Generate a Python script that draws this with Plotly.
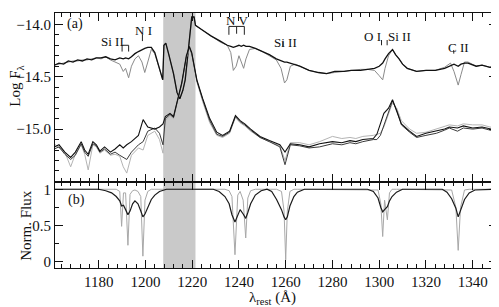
import plotly.graph_objects as go

# ---------------- data ----------------
# Panel (a): upper spectrum (black = observed, grey = with absorption)
up_wl = [1161, 1163, 1165, 1167, 1169, 1171, 1173, 1175, 1177, 1179, 1181, 1183, 1185, 1187,
         1189, 1190.5, 1191.5, 1192.8, 1194, 1195.5, 1197, 1198.5, 1199.7, 1201, 1202.5, 1204,
         1205.5, 1206.5, 1207.4, 1207.9, 1208.7, 1210, 1212, 1213.5, 1214.7, 1216, 1217, 1218,
         1219, 1219.8, 1220.8, 1221.4, 1224, 1228, 1232, 1235, 1236.5, 1237.6, 1238.8, 1240,
         1241, 1242, 1243, 1244.5, 1247, 1250, 1253, 1256, 1258, 1259.5, 1260.5, 1262, 1264,
         1266, 1270, 1274, 1277.5, 1281, 1285, 1288, 1292, 1295, 1298, 1300, 1301.5, 1302.5,
         1304, 1305.7, 1307, 1308.5, 1310, 1312, 1316, 1320, 1324, 1328, 1330.5, 1332, 1333.8,
         1335, 1336.5, 1338, 1341.5, 1344, 1347.4, 1350]
up_black = [-14.39, -14.37, -14.38, -14.35, -14.36, -14.34, -14.35, -14.33, -14.34, -14.32, -14.32,
            -14.31, -14.33, -14.34, -14.32, -14.33, -14.32, -14.33, -14.31, -14.28, -14.26, -14.24,
            -14.23, -14.22, -14.22, -14.27, -14.38, -14.47, -14.53, -14.20, -14.18, -14.29, -14.47,
            -14.65, -14.71, -14.63, -14.53, -14.32, -14.10, -13.93, -13.93, -14.01, -14.05, -14.11,
            -14.16, -14.20, -14.21, -14.22, -14.21, -14.20, -14.21, -14.20, -14.21, -14.21, -14.23,
            -14.26, -14.29, -14.33, -14.35, -14.36, -14.36, -14.37, -14.38, -14.40, -14.44, -14.46,
            -14.47, -14.45, -14.45, -14.44, -14.44, -14.43, -14.42, -14.40, -14.37, -14.33, -14.28,
            -14.24, -14.29, -14.33, -14.38, -14.42, -14.45, -14.44, -14.44, -14.42, -14.39, -14.38,
            -14.40, -14.38, -14.37, -14.37, -14.40, -14.39, -14.41, -14.41]
up_grey = [-14.39, -14.38, -14.37, -14.36, -14.35, -14.35, -14.34, -14.34, -14.33, -14.32, -14.33,
           -14.31, -14.34, -14.36, -14.38, -14.45, -14.42, -14.51, -14.40, -14.33, -14.30, -14.36,
           -14.46, -14.36, -14.24, -14.28, -14.39, -14.48, -14.53, -14.20, -14.18, -14.29, -14.47,
           -14.65, -14.71, -14.63, -14.53, -14.32, -14.10, -13.93, -13.93, -14.01, -14.05, -14.11,
           -14.17, -14.20, -14.27, -14.44, -14.40, -14.30, -14.36, -14.42, -14.33, -14.24, -14.23,
           -14.26, -14.30, -14.34, -14.42, -14.56, -14.53, -14.40, -14.38, -14.40, -14.44, -14.46,
           -14.47, -14.46, -14.45, -14.44, -14.43, -14.43, -14.44, -14.49, -14.53, -14.42, -14.30,
           -14.24, -14.29, -14.33, -14.38, -14.42, -14.45, -14.44, -14.44, -14.41, -14.37, -14.45,
           -14.58, -14.48, -14.36, -14.36, -14.40, -14.39, -14.41, -14.41]

# Panel (a): lower spectrum (three epochs)
lo_wl = [1161, 1163, 1165.5, 1168, 1170, 1171.5, 1172.5, 1174, 1175.5, 1177.5, 1179, 1180.5,
         1182.5, 1185, 1187, 1189, 1190.5, 1192, 1194, 1197, 1199, 1201, 1204, 1206, 1207.5,
         1208.5, 1210.5, 1212, 1213.5, 1215.5, 1217.5, 1218.8, 1219.8, 1222, 1224.5, 1227.5,
         1230.5, 1233, 1236, 1238.5, 1240.5, 1242.5, 1245, 1249, 1253, 1257.5, 1259.7, 1262,
         1266, 1270, 1274.5, 1280, 1284, 1287.5, 1290, 1293, 1297.5, 1299, 1300.5, 1302, 1304,
         1305.7, 1307.5, 1309.5, 1313, 1316, 1320, 1324.5, 1328, 1330, 1333.5, 1336, 1340,
         1344, 1347.4, 1350]
lo_a = [-15.17, -15.15, -15.22, -15.27, -15.22, -15.16, -15.12, -15.20, -15.24, -15.12, -15.15,
        -15.21, -15.17, -15.22, -15.19, -15.15, -15.18, -15.15, -15.12, -15.06, -14.91, -14.98,
        -15.00, -14.98, -14.95, -14.88, -14.85, -14.88, -14.74, -14.56, -14.30, -14.21, -14.27,
        -14.53, -14.71, -14.90, -15.03, -15.06, -15.02, -14.87, -14.92, -14.95, -15.00, -15.07,
        -15.11, -15.15, -15.22, -15.14, -15.15, -15.17, -15.14, -15.12, -15.13, -15.11, -15.12,
        -15.10, -15.09, -15.05, -14.95, -14.85, -14.80, -14.72, -14.83, -14.95, -15.02, -15.07,
        -15.04, -15.02, -15.00, -14.98, -14.99, -14.97, -14.99, -14.98, -15.00, -15.01]
lo_b = [-15.19, -15.17, -15.24, -15.29, -15.25, -15.18, -15.14, -15.22, -15.26, -15.14, -15.16,
        -15.22, -15.19, -15.24, -15.22, -15.25, -15.27, -15.29, -15.22, -15.15, -15.12, -15.02,
        -14.99, -15.04, -15.15, -14.90, -14.86, -14.89, -14.75, -14.57, -14.31, -14.22, -14.28,
        -14.54, -14.72, -14.92, -15.05, -15.07, -15.03, -14.88, -14.93, -14.96, -15.01, -15.08,
        -15.12, -15.17, -15.34, -15.15, -15.16, -15.18, -15.17, -15.14, -15.15, -15.13, -15.14,
        -15.12, -15.10, -15.10, -15.06, -14.96, -14.83, -14.73, -14.82, -14.96, -15.03, -15.08,
        -15.06, -15.04, -15.01, -14.99, -15.02, -14.99, -15.00, -14.99, -15.01, -15.02]
lo_c = [-15.14, -15.18, -15.22, -15.36, -15.24, -15.18, -15.15, -15.24, -15.39, -15.15, -15.17,
        -15.23, -15.20, -15.25, -15.24, -15.26, -15.36, -15.42, -15.25, -15.18, -15.20, -15.06,
        -15.02, -15.10, -15.23, -14.92, -14.87, -14.90, -14.76, -14.57, -14.32, -14.23, -14.29,
        -14.55, -14.74, -14.94, -15.06, -15.08, -15.04, -14.89, -14.94, -14.97, -15.02, -15.08,
        -15.12, -15.16, -15.30, -15.13, -15.13, -15.15, -15.12, -15.07, -15.09, -15.08, -15.09,
        -15.07, -15.06, -15.05, -15.04, -14.98, -14.86, -14.75, -14.80, -14.92, -15.00, -15.04,
        -15.03, -15.00, -14.98, -14.96, -14.97, -14.95, -14.96, -14.96, -14.98, -14.99]

# Panel (b): normalised absorption models
mod_wl = [1161, 1180, 1183, 1185.5, 1187.5, 1189, 1189.8, 1190.6, 1191.5, 1192.5, 1193.4, 1194.5,
          1195.5, 1196.8, 1198, 1198.9, 1199.8, 1201, 1202.5, 1204, 1206, 1209, 1229, 1231.5,
          1234, 1235.8, 1237, 1238.3, 1239.5, 1240.5, 1241.8, 1242.9, 1243.8, 1245, 1247, 1249.5,
          1252, 1254, 1256.1, 1258.2, 1259.3, 1260, 1260.7, 1261.8, 1263.5, 1265, 1268, 1295,
          1297.5, 1299.5, 1300.7, 1301.5, 1302.3, 1303.5, 1304.4, 1305.5, 1307.4, 1310, 1327,
          1329, 1331, 1332.8, 1333.8, 1334.8, 1336.5, 1338.5, 1341, 1350]
mod_black = [1, 1, 0.98, 0.95, 0.90, 0.84, 0.77, 0.78, 0.72, 0.65, 0.70, 0.80, 0.84, 0.80, 0.70,
             0.62, 0.66, 0.76, 0.86, 0.92, 0.97, 1, 1, 0.97, 0.90, 0.80, 0.65, 0.55, 0.65, 0.72,
             0.66, 0.60, 0.68, 0.80, 0.92, 0.98, 1, 0.97, 0.86, 0.72, 0.62, 0.58, 0.62, 0.77, 0.90,
             0.96, 1, 1, 0.97, 0.88, 0.75, 0.69, 0.72, 0.76, 0.84, 0.90, 0.96, 1, 1, 0.96, 0.87,
             0.74, 0.62, 0.72, 0.86, 0.95, 0.99, 1]
mod_grey = [1, 1, 1, 1, 1, 0.97, 0.49, 0.95, 0.95, 0.23, 0.93, 0.98, 0.99, 0.97, 0.90, 0.08, 0.85,
            0.97, 1, 1, 1, 1, 1, 1, 1, 0.98, 0.90, 0.10, 0.92, 0.97, 0.85, 0.33, 0.88, 0.98, 1, 1,
            1, 1, 1, 0.97, 0.70, 0.03, 0.70, 0.97, 1, 1, 1, 1, 1, 0.99, 0.80, 0.35, 0.85, 0.58,
            0.95, 1, 1, 1, 1, 1, 0.99, 0.75, 0.16, 0.75, 0.99, 1, 1, 1]

# Tick labels
top_ticks = [-15.0, -14.5, -14.0]
bot_ticks = [0, 0.5, 1]
x_ticks = [1180, 1200, 1220, 1240, 1260, 1280, 1300, 1320, 1340]

# Shaded Ly-alpha window
shade_wl = [1207.6, 1221.4]

# Line identifications in panel (a)
lab_text = ["Si II", "N I", "N V", "Si II", "O I", "Si II", "C II"]
lab_wl = [1185.9, 1199.1, 1239.0, 1259.7, 1297.3, 1308.7, 1334.0]
lab_y = [-14.161, -14.057, -13.96, -14.177, -14.118, -14.118, -14.224]
tick_wl = [1190.0, 1192.8, 1198.7, 1235.7, 1239.0, 1242.3, 1258.8, 1301.0, 1303.4, 1331.9]
tick_top = [-14.20, -14.20, -14.10, -14.02, -14.02, -14.02, -14.166, -14.15, -14.15, -14.245]
tick_bot = [-14.26, -14.26, -14.16, -14.10, -14.09, -14.10, -14.214, -14.20, -14.20, -14.28]
bracket_lo = [1190.0, 1235.7]
bracket_hi = [1192.8, 1242.3]
bracket_y = [-14.20, -14.02]

# ---------------- figure ----------------
FONT = "Liberation Serif, DejaVu Serif, serif"
fig = go.Figure()

fig.add_trace(go.Scatter(x=up_wl, y=up_grey, xaxis="x2", yaxis="y2", mode="lines",
                         line=dict(color="#8a8a8a", width=1.0), showlegend=False))
fig.add_trace(go.Scatter(x=up_wl, y=up_black, xaxis="x2", yaxis="y2", mode="lines",
                         line=dict(color="#111111", width=1.3), showlegend=False))
fig.add_trace(go.Scatter(x=lo_wl, y=lo_c, xaxis="x2", yaxis="y2", mode="lines",
                         line=dict(color="#b4b4b4", width=1.0), showlegend=False))
fig.add_trace(go.Scatter(x=lo_wl, y=lo_b, xaxis="x2", yaxis="y2", mode="lines",
                         line=dict(color="#3a3a3a", width=1.0), showlegend=False))
fig.add_trace(go.Scatter(x=lo_wl, y=lo_a, xaxis="x2", yaxis="y2", mode="lines",
                         line=dict(color="#111111", width=1.1), showlegend=False))

fig.add_trace(go.Scatter(x=mod_wl, y=mod_grey, xaxis="x", yaxis="y", mode="lines",
                         line=dict(color="#a8a8a8", width=1), showlegend=False))
fig.add_trace(go.Scatter(x=mod_wl, y=mod_black, xaxis="x", yaxis="y", mode="lines",
                         line=dict(color="#1a1a1a", width=1.2), showlegend=False))

shapes = [dict(type="rect", xref="x", yref="paper", x0=shade_wl[0], x1=shade_wl[1],
               y0=0, y1=1, fillcolor="#c9c9c9", line=dict(width=0), layer="below")]
for w, t, b in zip(tick_wl, tick_top, tick_bot):
    shapes.append(dict(type="line", xref="x2", yref="y2", x0=w, x1=w, y0=t, y1=b,
                       line=dict(color="#222", width=1)))
for a, b, y in zip(bracket_lo, bracket_hi, bracket_y):
    shapes.append(dict(type="line", xref="x2", yref="y2", x0=a, x1=b, y0=y, y1=y,
                       line=dict(color="#222", width=1)))

ann = []
for t, w, y in zip(lab_text, lab_wl, lab_y):
    ann.append(dict(text=t, x=w, y=y, xref="x2", yref="y2", showarrow=False,
                    font=dict(size=13, family=FONT, color="#111")))
ann.append(dict(text="(a)", x=1170.0, y=-14.0, xref="x2", yref="y2", showarrow=False,
                font=dict(size=14, family=FONT, color="#111")))
ann.append(dict(text="(b)", x=1170.3, y=0.85, xref="x", yref="y", showarrow=False,
                font=dict(size=14, family=FONT, color="#111")))
ann.append(dict(text="Log F<sub>λ</sub>", x=-0.088, y=0.715, xref="paper", yref="paper",
                xanchor="center", yanchor="middle",
                textangle=-90, showarrow=False, font=dict(size=15, family=FONT, color="#111")))
ann.append(dict(text="Norm. Flux", x=-0.066, y=0.169, xref="paper", yref="paper",
                xanchor="center", yanchor="middle",
                textangle=-90, showarrow=False, font=dict(size=15, family=FONT, color="#111")))
ann.append(dict(text="λ<sub>rest</sub> (Å)", x=0.491, y=-0.118, xref="paper", yref="paper",
                xanchor="center", yanchor="middle",
                showarrow=False, font=dict(size=15, family=FONT, color="#111")))

axcommon = dict(showline=True, linecolor="#111", linewidth=1, mirror="ticks", ticks="inside",
                tickcolor="#111", tickwidth=1, showgrid=False, zeroline=False,
                tickfont=dict(size=15, family=FONT, color="#111"))

# The page body has an 8 px margin, so the figure is sized/offset to compensate.
fig.update_layout(
    width=491, height=299,
    margin=dict(l=47, r=2, t=5, b=39),
    paper_bgcolor="white", plot_bgcolor="white",
    shapes=shapes, annotations=ann,
    xaxis=dict(domain=[0, 1], anchor="y", range=[1161.3, 1350.4], tickvals=x_ticks,
               ticklen=8, minor=dict(ticks="inside", dtick=4, tick0=1160, ticklen=4,
                                     tickcolor="#111"),
               **axcommon),
    xaxis2=dict(domain=[0, 1], anchor="y2", matches="x", range=[1161.3, 1350.4],
                tickvals=x_ticks, ticklen=8, showticklabels=False,
                minor=dict(ticks="inside", dtick=4, tick0=1160, ticklen=4, tickcolor="#111"),
                **axcommon),
    yaxis=dict(domain=[0, 0.3373], anchor="x", range=[-0.0825, 1.10], tickvals=bot_ticks,
               ticktext=["0", "0.5", "1"], ticklen=8,
               minor=dict(ticks="inside", dtick=0.25, tick0=0, ticklen=4, tickcolor="#111"),
               **axcommon),
    yaxis2=dict(domain=[0.3373, 1], anchor="x2", range=[-15.505, -13.892], tickvals=top_ticks,
                tickformat=".1f", ticklen=8,
                minor=dict(ticks="inside", dtick=0.1, tick0=-15, ticklen=4, tickcolor="#111"),
                **axcommon),
)

fig.write_html("out.html")
